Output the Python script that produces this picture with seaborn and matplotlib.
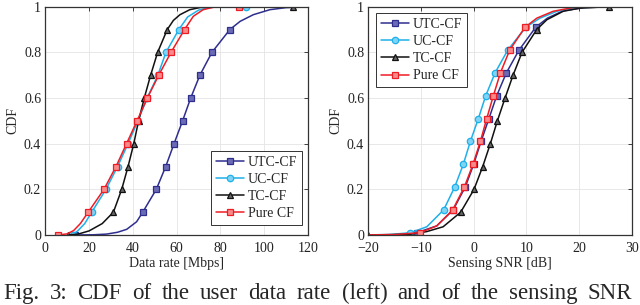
import numpy as np
import matplotlib
matplotlib.use("Agg")
import matplotlib.pyplot as plt
import seaborn as sns

# ---- data (x value, CDF level) ----
series_names = ["UTC-CF", "UC-CF", "TC-CF", "Pure CF"]

# left panel: data rate [Mbps]
rate_utc_x = [13.4, 22, 28, 33, 37.2, 41.7, 44.5, 50.7, 55.0, 58.8, 62.7, 66.4, 70.6, 76.1, 84.3, 89, 95, 102.6, 110, 120, 128]
rate_utc_y = [0.0, 0.001, 0.004, 0.012, 0.025, 0.058, 0.1, 0.2, 0.3, 0.4, 0.5, 0.6, 0.7, 0.8, 0.9, 0.936, 0.965, 0.987, 0.996, 0.999, 1.0]
rate_uc_x = [12.5, 15, 18, 21.2, 27.7, 33.0, 37.8, 42.3, 46.5, 51.4, 55.1, 61.0, 65, 70, 75, 82, 91.6]
rate_uc_y = [0.0, 0.02, 0.05, 0.1, 0.2, 0.3, 0.4, 0.5, 0.6, 0.7, 0.8, 0.9, 0.955, 0.985, 0.997, 0.9995, 1.0]
rate_tc_x = [10.5, 15, 20, 26, 31.1, 34.9, 37.8, 40.4, 42.6, 45.2, 48.1, 51.3, 55.7, 58.5, 61.5, 66, 71, 80, 113]
rate_tc_y = [0.0, 0.004, 0.018, 0.05, 0.1, 0.2, 0.3, 0.4, 0.5, 0.6, 0.7, 0.8, 0.9, 0.94, 0.965, 0.987, 0.997, 0.9995, 1.0]
rate_pure_x = [5.6, 10, 13, 16, 19.6, 26.8, 32.3, 37.1, 41.9, 46.6, 51.8, 57.4, 63.6, 67.6, 72.1, 77, 88.3]
rate_pure_y = [0.0, 0.005, 0.02, 0.05, 0.1, 0.2, 0.3, 0.4, 0.5, 0.6, 0.7, 0.8, 0.9, 0.958, 0.987, 0.998, 1.0]

# right panel: sensing SNR [dB]
snr_utc_x = [-22, -15, -10.8, -7, -3.9, -1.6, 0.0, 1.4, 2.9, 4.37, 6.2, 8.61, 11.78, 14, 17, 21, 26, 32]
snr_utc_y = [0.0, 0.001, 0.01, 0.04, 0.11, 0.21, 0.31, 0.41, 0.51, 0.61, 0.71, 0.81, 0.91, 0.95, 0.982, 0.996, 0.9995, 1.0]
snr_uc_x = [-22, -16, -12.0, -8.9, -5.7, -3.6, -1.96, -0.63, 0.89, 2.29, 4.06, 6.47, 9.9, 12.6, 15.8, 20, 25, 32]
snr_uc_y = [0.0, 0.002, 0.01, 0.036, 0.11, 0.21, 0.31, 0.41, 0.51, 0.61, 0.71, 0.81, 0.91, 0.95, 0.98, 0.997, 0.9995, 1.0]
snr_tc_x = [-20, -12.1, -8.9, -5.8, -2.46, 0.07, 1.72, 3.17, 4.5, 5.96, 7.48, 9.18, 11.97, 13.9, 17.0, 20.2, 25.6]
snr_tc_y = [0.0, 0.003, 0.015, 0.036, 0.1, 0.2, 0.3, 0.4, 0.5, 0.6, 0.7, 0.8, 0.9, 0.943, 0.98, 0.994, 1.0]
snr_pure_x = [-22, -15, -10.2, -7, -3.98, -1.77, -0.12, 1.27, 2.48, 3.74, 5.07, 6.84, 9.75, 12, 15.1, 19, 24, 32]
snr_pure_y = [0.0, 0.002, 0.01, 0.04, 0.11, 0.21, 0.31, 0.41, 0.51, 0.61, 0.71, 0.81, 0.91, 0.95, 0.98, 0.997, 0.9995, 1.0]

# CDF levels that carry a marker
rate_marks = [0.0, 0.1, 0.2, 0.3, 0.4, 0.5, 0.6, 0.7, 0.8, 0.9, 1.0]
snr_marks = [0.0, 0.01, 0.1, 0.11, 0.2, 0.21, 0.3, 0.31, 0.4, 0.41, 0.5, 0.51,
             0.6, 0.61, 0.7, 0.71, 0.8, 0.81, 0.9, 0.91, 1.0]

caption = "Fig. 3: CDF of the user data rate (left) and of the sensing SNR"

styles = {
    "UTC-CF": dict(color="#2e2e8f", marker="s", mfc="#6b6bb5", ms=4.6),
    "UC-CF": dict(color="#1db0ea", marker="o", mfc="#7fd4f5", ms=4.6),
    "TC-CF": dict(color="#111111", marker="^", mfc="#666666", ms=4.4),
    "Pure CF": dict(color="#ee1c24", marker="s", mfc="#f88a8a", ms=4.6),
}

sns.set_theme(style="white")
plt.rcParams["font.family"] = ["Liberation Serif", "DejaVu Serif"]

fig = plt.figure(figsize=(6.4, 3.05), dpi=100)
ax1 = fig.add_axes([0.0708, 0.2295, 0.4105, 0.7485])
ax2 = fig.add_axes([0.5755, 0.2295, 0.4115, 0.7485])


def draw(ax, data, marks):
    for name, (xs, ys) in zip(series_names, data):
        st = styles[name]
        idx = [i for i, v in enumerate(ys) if any(abs(v - m) < 1e-9 for m in marks)]
        sns.lineplot(x=xs, y=ys, ax=ax, sort=False, estimator=None,
                     color=st["color"], linewidth=1.1, marker=st["marker"],
                     markevery=idx, markersize=st["ms"],
                     markerfacecolor=st["mfc"], markeredgecolor=st["color"],
                     markeredgewidth=0.9, label=name, legend=False)


draw(ax1, [(rate_utc_x, rate_utc_y), (rate_uc_x, rate_uc_y),
           (rate_tc_x, rate_tc_y), (rate_pure_x, rate_pure_y)], rate_marks)
draw(ax2, [(snr_utc_x, snr_utc_y), (snr_uc_x, snr_uc_y),
           (snr_tc_x, snr_tc_y), (snr_pure_x, snr_pure_y)], snr_marks)

ax1.set_xlim(0, 120)
ax1.set_xticks(np.arange(0, 121, 20))
ax2.set_xlim(-20, 30)
ax2.set_xticks(np.arange(-20, 31, 10))
ax1.set_xlabel("Data rate [Mbps]", fontsize=10, labelpad=1.5)
ax2.set_xlabel("Sensing SNR [dB]", fontsize=10, labelpad=1.5)

for ax in (ax1, ax2):
    ax.set_ylim(0, 1)
    ax.set_yticks([0, 0.2, 0.4, 0.6, 0.8, 1])
    ax.set_yticklabels(["0", "0.2", "0.4", "0.6", "0.8", "1"])
    ax.set_ylabel("CDF", fontsize=10, labelpad=3)
    ax.grid(True, color="#e4e4e4", linewidth=0.6)
    ax.set_axisbelow(True)
    ax.tick_params(direction="in", length=3, width=0.6, top=True, right=True,
                   labelsize=10, pad=3, colors="#222222")
    ax.tick_params(axis="x", pad=5.2)
    for sp in ax.spines.values():
        sp.set_color("#333333")
        sp.set_linewidth(0.9)

leg_kw = dict(fontsize=10, frameon=True, fancybox=False, edgecolor="#333333",
              framealpha=1, handlelength=2.0, handletextpad=0.3,
              borderpad=0.35, labelspacing=0.3, borderaxespad=0.0)
l1 = ax1.legend(loc="lower right", bbox_to_anchor=(0.977, 0.044), **leg_kw)
l2 = ax2.legend(loc="upper left", bbox_to_anchor=(0.029, 0.972), **leg_kw)
for lg in (l1, l2):
    lg.get_frame().set_linewidth(0.7)

# justified caption: spread the words over the full width like the paper
words = caption.split(" ")
fig.canvas.draw()
renderer = fig.canvas.get_renderer()
left_px, right_px = 3.0, 632.0
base_y = 1 - 299 / 305
tmp = [fig.text(0, base_y, w, fontsize=16.5, va="baseline") for w in words]
widths = [t.get_window_extent(renderer).width for t in tmp]
gap = (right_px - left_px - sum(widths)) / (len(words) - 1)
x = left_px
for t, w in zip(tmp, widths):
    t.set_x(x / 640)
    x += w + gap

fig.savefig("out.png", dpi=100)
